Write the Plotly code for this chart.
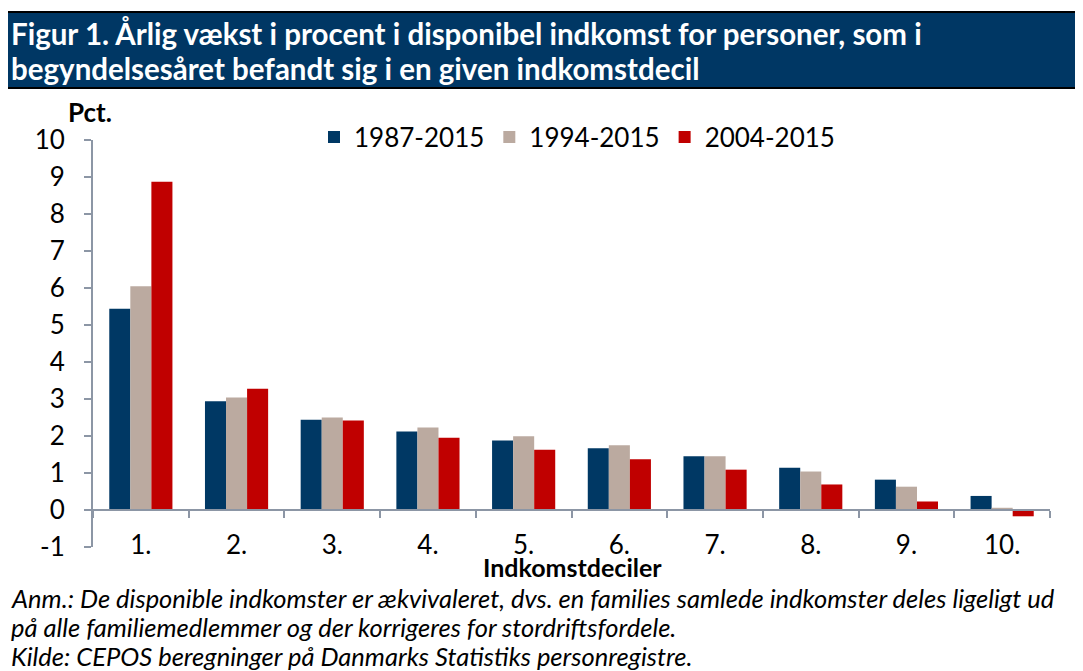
import plotly.graph_objects as go

deciles = ["1.", "2.", "3.", "4.", "5.", "6.", "7.", "8.", "9.", "10."]
s1987 = [5.44, 2.94, 2.44, 2.12, 1.88, 1.67, 1.45, 1.14, 0.82, 0.38]
s1994 = [6.05, 3.04, 2.50, 2.23, 1.99, 1.75, 1.45, 1.04, 0.63, 0.06]
s2004 = [8.87, 3.28, 2.42, 1.95, 1.63, 1.37, 1.09, 0.69, 0.23, -0.17]
series_names = ["1987-2015", "1994-2015", "2004-2015"]
y_tick_vals = [-1, 0, 1, 2, 3, 4, 5, 6, 7, 8, 9, 10]
y_tick_text = ["-1", "0", "1", "2", "3", "4", "5", "6", "7", "8", "9", "10"]
colors = ["#003864", "#BBAAA0", "#C00000"]

WIN_W, WIN_H = 1083, 671
OFF = 8  # page body margin
L, R, T, B = 93, 1050, 140, 547  # plot area in window pixels
FONT = "Lato"
AXC = "#8C96A5"
FS = 26

def px(x):
    return (x - L) / (R - L)

def py(y):
    return (B - y) / (B - T)

fig = go.Figure()
for name, vals, c in zip(series_names, [s1987, s1994, s2004], colors):
    fig.add_trace(go.Bar(x=deciles, y=vals, name=name, marker=dict(color=c, line=dict(width=0))))

fig.add_trace(go.Scatter(x=[-0.5, 9.5], y=[0, 0], xaxis="x2", mode="lines",
                         line=dict(width=0), showlegend=False, hoverinfo="skip"))

fig.update_layout(
    width=WIN_W - OFF, height=WIN_H - OFF,
    margin=dict(l=L - OFF, r=WIN_W - R, t=T - OFF, b=WIN_H - B),
    paper_bgcolor="white", plot_bgcolor="white",
    font=dict(family=FONT, size=FS, color="black"),
    barmode="group", bargap=0.34, bargroupgap=0,
    showlegend=True,
    legend=dict(orientation="h", x=px(577), xanchor="center", y=py(137), yanchor="middle",
                font=dict(size=FS), bgcolor="rgba(0,0,0,0)", itemwidth=30, traceorder="normal"),
    xaxis=dict(type="category", range=[-0.5, 9.5], anchor="free", position=py(527),
               showline=False, ticks="", showgrid=False, zeroline=False,
               tickfont=dict(size=FS)),
    xaxis2=dict(overlaying="x", range=[-0.5, 9.5], anchor="free", position=1 / 11,
                showline=True, linecolor=AXC, linewidth=2, ticks="outside", ticklen=7,
                tickcolor=AXC, tickwidth=2, tickmode="array",
                tickvals=[i - 0.5 for i in range(11)], showticklabels=False,
                showgrid=False, zeroline=False),
    yaxis=dict(range=[-1, 10], tickmode="array", tickvals=y_tick_vals, ticktext=y_tick_text,
               showline=True, linecolor=AXC, linewidth=2,
               ticks="outside", ticklen=7, tickcolor=AXC, tickwidth=2,
               showgrid=False, zeroline=False, tickfont=dict(size=FS),
               ticklabelstandoff=14),
)

shapes = []
shapes.append(dict(type="rect", xref="paper", yref="paper", x0=px(2), x1=px(1081), y0=py(12), y1=py(88),
                   fillcolor="#003764", line=dict(color="black", width=2), layer="below"))
shapes.append(dict(type="rect", xref="paper", yref="paper", x0=px(2), x1=px(1081), y0=py(12), y1=py(674),
                   fillcolor="rgba(0,0,0,0)", line=dict(color="black", width=2)))
fig.update_layout(shapes=shapes)

ann = []
ann.append(dict(text="<b>Figur 1. Årlig vækst i procent i disponibel indkomst for personer, som i</b>",
                xref="paper", yref="paper", x=px(9), y=py(34), xanchor="left", yanchor="middle",
                showarrow=False, font=dict(family=FONT, size=29.5, color="white")))
ann.append(dict(text="<b>begyndelsesåret befandt sig i en given indkomstdecil</b>",
                xref="paper", yref="paper", x=px(9), y=py(69), xanchor="left", yanchor="middle",
                showarrow=False, font=dict(family=FONT, size=29.5, color="white")))
ann.append(dict(text="<b>Pct.</b>", xref="paper", yref="paper", x=px(90), y=py(112),
                xanchor="center", yanchor="middle", showarrow=False, font=dict(size=FS)))
ann.append(dict(text="<b>Indkomstdeciler</b>", xref="paper", yref="paper", x=px(572), y=py(567),
                xanchor="center", yanchor="middle", showarrow=False, font=dict(size=25)))
notes = ["Anm.: De disponible indkomster er ækvivaleret, dvs. en families samlede indkomster deles ligeligt ud",
         "på alle familiemedlemmer og der korrigeres for stordriftsfordele.",
         "Kilde: CEPOS beregninger på Danmarks Statistiks personregistre."]
for i, t in enumerate(notes):
    ann.append(dict(text="<i>" + t + "</i>", xref="paper", yref="paper", x=px(9), y=py(598 + 29 * i),
                    xanchor="left", yanchor="middle", showarrow=False, font=dict(size=25.5)))
fig.update_layout(annotations=ann)

fig.write_html("out.html")
